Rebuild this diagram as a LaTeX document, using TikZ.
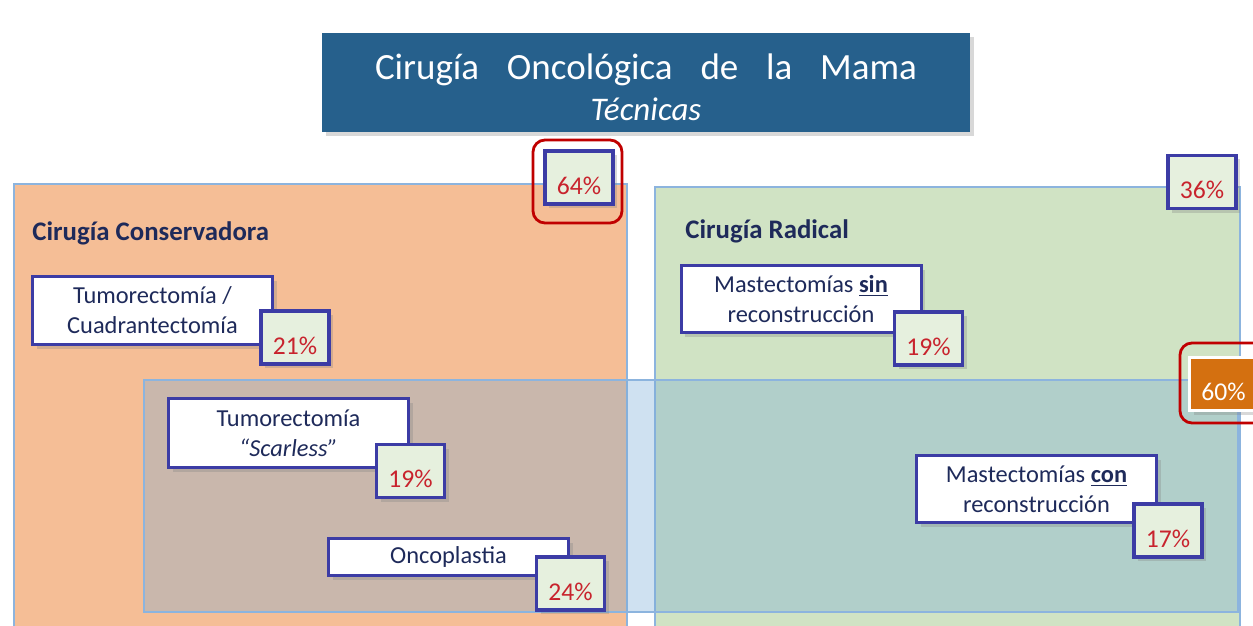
\documentclass[tikz,border=0pt]{standalone}
\usepackage{fontspec}
\setmainfont{Carlito}
\usetikzlibrary{shadows}

\definecolor{tituloazul}{RGB}{38,96,140}
\definecolor{naranja}{RGB}{245,190,150}
\definecolor{verde}{RGB}{208,227,196}
\definecolor{azulclaro}{RGB}{120,170,215}
\definecolor{bordeazul}{RGB}{140,180,222}
\definecolor{marco}{RGB}{60,60,165}
\definecolor{verdepct}{RGB}{230,240,222}
\definecolor{rojopct}{RGB}{200,35,45}
\definecolor{rojomarca}{RGB}{192,0,0}
\definecolor{marino}{RGB}{30,42,90}
\definecolor{naranjafuerte}{RGB}{212,112,16}

\tikzset{
  sombra/.style={drop shadow={shadow xshift=2pt, shadow yshift=-2pt, opacity=0.3}},
  tecnica/.style={draw=marco, line width=1.5pt, fill=white, text=marino, align=center,
    minimum width=120pt, inner sep=0pt, font=\fontsize{12.2}{15}\selectfont, sombra},
  pct/.style={draw=marco, line width=1.6pt, fill=verdepct, text=rojopct,
    minimum width=34pt, minimum height=26.5pt, inner sep=0pt,
    text height=16.5pt, text depth=0pt, font=\fontsize{12.8}{14}\selectfont, sombra},
  marca/.style={draw=rojomarca, line width=1.4pt, rounded corners=6pt},
  seccion/.style={draw=bordeazul, line width=0.6pt},
  encabezado/.style={font=\bfseries\fontsize{13.4}{16}\selectfont, text=marino,
    anchor=west, inner sep=0pt}
}

\begin{document}
\begin{tikzpicture}[x=0.5pt, y=-0.5pt]
  \clip (0,0) rectangle (1253,626);
  \fill[white] (0,0) rectangle (1253,626);

  % secciones
  \filldraw[seccion, fill=naranja] (14,184) rectangle (627,640);
  \filldraw[seccion, fill=verde] (655,187) rectangle (1240,640);
  \fill[azulclaro, fill opacity=0.35] (144,380) rectangle (1238,612);
  \draw[seccion] (144,380) rectangle (1238,612);

  \node[encabezado] (conservadora) at (32,233) {Cirugía Conservadora};
  \node[encabezado] (radical) at (685,231) {Cirugía Radical};

  % titulo
  \fill[tituloazul, sombra] (322,33) rectangle (970,132);
  \node[text=white, inner sep=0pt, align=center, font=\fontsize{18.5}{20.5}\selectfont]
    (titulo) at (646,87)
    {\makebox[271pt][s]{Cirugía Oncológica de la Mama}\\
     {\fontsize{16.5}{20}\selectfont\textit{Técnicas}}};

  % tecnicas
  \node[tecnica, minimum height=34pt] (tumorectomia) at (152.5,310.5)
    {Tumorectomía /\\ Cuadrantectomía};
  \node[tecnica, minimum height=34.5pt] (scarless) at (288.5,433)
    {Tumorectomía\\ \textit{“Scarless”}};
  \node[tecnica, minimum height=18.5pt] (oncoplastia) at (448.5,557) {Oncoplastia};
  \node[tecnica, minimum height=33.5pt] (sinrec) at (801,299)
    {Mastectomías \underline{\textbf{sin}}\\ reconstrucción};
  \node[tecnica, minimum height=33.5pt] (conrec) at (1036.5,489)
    {Mastectomías \underline{\textbf{con}}\\ reconstrucción};

  % porcentajes
  \node[pct] (p64) at (579,177.5) {64\%};
  \node[pct] (p36) at (1202,182) {36\%};
  \node[pct] (p21) at (295,337.5) {21\%};
  \node[pct] (p19a) at (410.5,471) {19\%};
  \node[pct] (p24) at (570.5,583.5) {24\%};
  \node[pct] (p19b) at (928.5,338.5) {19\%};
  \node[pct] (p17) at (1168,530.5) {17\%};
  \node[pct, fill=naranjafuerte, draw=white, text=white] (p60) at (1223.5,384) {60\%};

  \draw[marca] (533,140) rectangle (622,223);
  \draw[marca] (1180,343) rectangle (1275,423);
\end{tikzpicture}
\end{document}
